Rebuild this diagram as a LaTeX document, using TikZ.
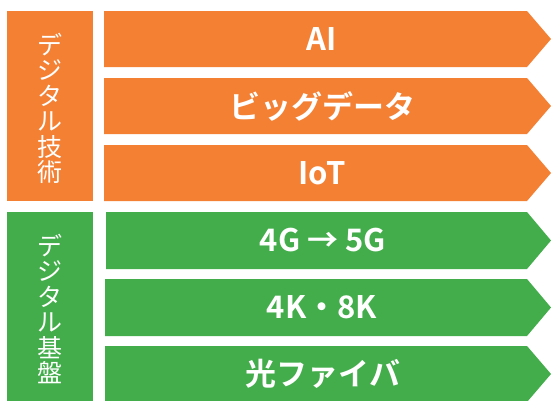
\documentclass[tikz,border=0pt]{standalone}
\usepackage{fontspec}
\newfontfamily\jp{Noto Sans CJK JP}[BoldFont={Noto Sans CJK JP Bold}]
\definecolor{orng}{RGB}{244,128,52}
\definecolor{grn}{RGB}{66,173,74}
\tikzset{
  lbl/.style={text=white,font=\jp\bfseries\fontsize{31}{33}\selectfont,inner sep=0pt,anchor=center},
  side/.style={text=white,font=\jp\fontsize{25}{25.5}\selectfont,align=center,inner sep=0pt},
}
\newcommand{\chevron}[4]{% color, xleft, ytop, ybottom
  \fill[#1] (#2,-#3) -- (527,-#3) -- (551,{-(#3+#4)/2}) -- (527,-#4) -- (#2,-#4) -- cycle;}
\begin{document}
\begin{tikzpicture}[x=1pt,y=1pt]
\useasboundingbox (0,0) rectangle (551,-400);
\clip (0,0) rectangle (551,-400);
% left boxes
\fill[orng] (7,-11) rectangle (93,-201);
\fill[grn] (7,-212) rectangle (93,-402);
\node[side] (t1) at (50,-108.5) {デ\\ジ\\タ\\ル\\技\\術};
\node[side] (t2) at (50,-309) {デ\\ジ\\タ\\ル\\基\\盤};
% chevrons
\chevron{orng}{104}{11}{67}
\chevron{orng}{104}{78}{134}
\chevron{orng}{104}{145}{201}
\chevron{grn}{106}{212}{269}
\chevron{grn}{105}{279}{336}
\chevron{grn}{105}{346}{402}
\node[lbl] (a1) at (322,-39) {AI};
\node[lbl] (a2) at (322,-106) {ビッグデータ};
\node[lbl] (a3) at (322,-173) {IoT};
\node[lbl] (b1) at (323,-240.5) {4G → 5G};
\node[lbl] (b2) at (322,-307.5) {4K・8K};
\node[lbl] (b3) at (323,-374) {光ファイバ};
\end{tikzpicture}
\end{document}
